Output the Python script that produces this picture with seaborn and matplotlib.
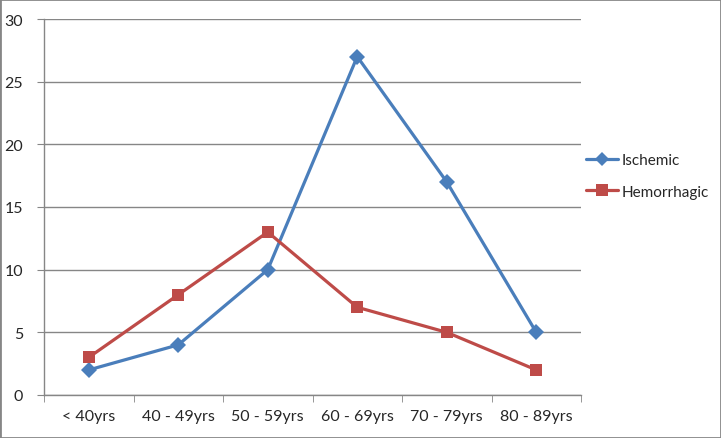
import matplotlib
matplotlib.use("Agg")
import matplotlib.pyplot as plt
from matplotlib.patches import Rectangle
from matplotlib.lines import Line2D
import seaborn as sns
import pandas as pd

age_groups = ["< 40yrs", "40 - 49yrs", "50 - 59yrs", "60 - 69yrs", "70 - 79yrs", "80 - 89yrs"]
ischemic = [2, 4, 10, 27, 17, 5]
hemorrhagic = [3, 8, 13, 7, 5, 2]

df = pd.DataFrame({"age": age_groups * 2,
                   "count": ischemic + hemorrhagic,
                   "type": ["Ischemic"] * 6 + ["Hemorrhagic"] * 6})

sns.set_style("white")
plt.rcParams['font.family'] = ['Lato', 'DejaVu Sans']

fig = plt.figure(figsize=(7.21, 4.39), dpi=100)
ax = fig.add_axes([44 / 721, 43 / 439, 537 / 721, 376 / 439])

pal = {"Ischemic": "#4A7EBB", "Hemorrhagic": "#BE4B48"}
sns.lineplot(data=df, x="age", y="count", hue="type", style="type",
             markers={"Ischemic": "D", "Hemorrhagic": "s"}, dashes=False,
             palette=pal, linewidth=2.3, markersize=8, markeredgewidth=0,
             ax=ax, legend=False)

ax.set_xlim(-0.5, 5.5)
ax.set_ylim(0, 30)
ax.set_yticks(range(0, 31, 5))
ax.set_xticks(range(6))
ax.set_xticklabels(age_groups)
ax.set_xticks([i - 0.5 for i in range(7)], minor=True)
ax.set_xlabel("")
ax.set_ylabel("")
ax.grid(axis="y", color="#868686", linewidth=1)
ax.set_axisbelow(True)

for s in ["top", "right"]:
    ax.spines[s].set_visible(False)
for s in ["left", "bottom"]:
    ax.spines[s].set_color("#868686")
    ax.spines[s].set_linewidth(1)

ax.tick_params(axis="y", which="major", length=5, color="#868686", labelsize=11.5, pad=10, left=True)
ax.tick_params(axis="x", which="major", length=0, labelsize=11.5, pad=10)
ax.tick_params(axis="x", which="minor", length=5, color="#868686", bottom=True)

# legend
handles = [Line2D([], [], color=pal["Ischemic"], marker="D", lw=2.3, ms=7.5, mew=0),
           Line2D([], [], color=pal["Hemorrhagic"], marker="s", lw=2.3, ms=8, mew=0)]
fig.legend(handles, ["Ischemic", "Hemorrhagic"], loc="center left",
           bbox_to_anchor=(583 / 721, 1 - 177 / 439), frameon=False,
           fontsize=11, handlelength=2.1, handletextpad=0.25, labelspacing=1.15,
           borderaxespad=0, borderpad=0.2)

fig.patches.append(Rectangle((0, 0), 1, 1, transform=fig.transFigure,
                             fill=False, edgecolor="#868686", linewidth=2))

fig.savefig("out.png", dpi=100)
